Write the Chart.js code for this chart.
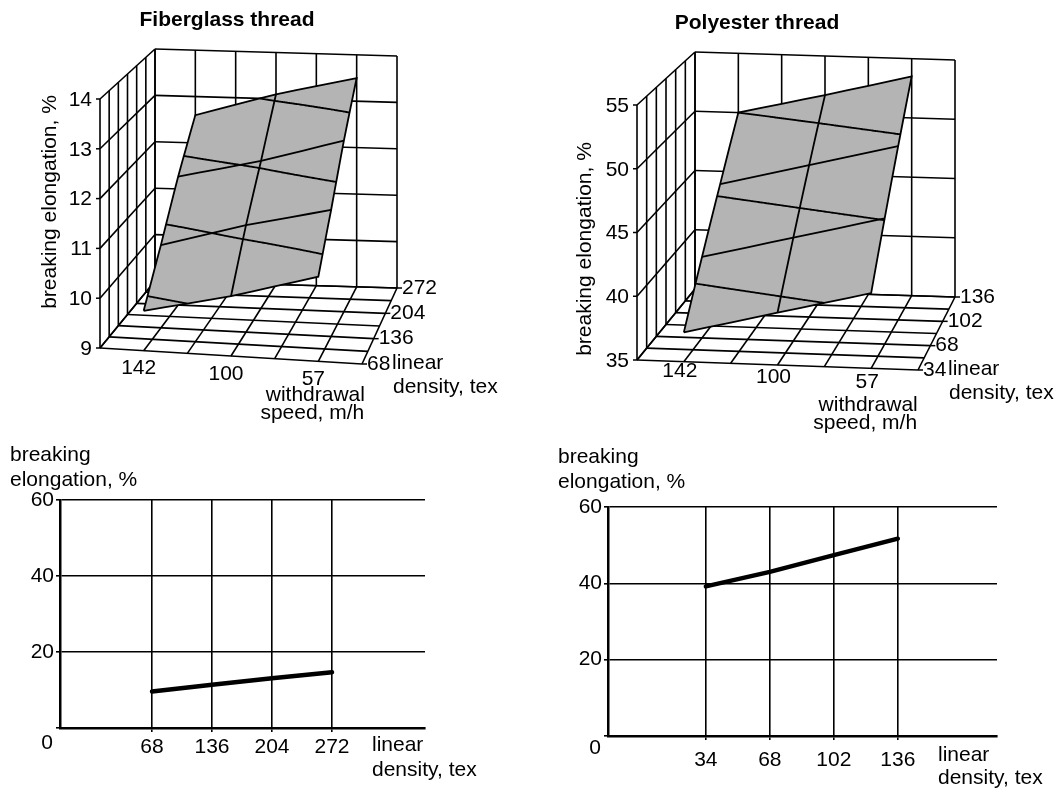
<!DOCTYPE html>
<html>
<head>
<meta charset="utf-8">
<script src="https://cdn.jsdelivr.net/npm/chart.js@4.4.0/dist/chart.umd.min.js"></script>
<style>
  body { margin: 0; background: #fff; }
  #wrap { position: relative; width: 1061px; height: 792px; }
  canvas { position: absolute; }
</style>
</head>
<body>
<div id="wrap">
  <canvas id="fiber3d" width="530" height="440" style="left:0;top:0"></canvas>
  <canvas id="poly3d" width="531" height="440" style="left:530px;top:0"></canvas>
  <canvas id="fiber2d" width="530" height="372" style="left:0;top:420px"></canvas>
  <canvas id="poly2d" width="531" height="372" style="left:530px;top:420px"></canvas>
</div>
<script>
// values
const speeds = [142, 100, 57];
const fiberDensity = [68, 136, 204, 272];
const polyDensity = [34, 68, 102, 136];

// breaking elongation (%) on the surfaces, one array per withdrawal speed, along density
const fiberZ142 = [9.8, 10.7, 11.7, 12.6];
const fiberZ100 = [10.2, 11.2, 12.1, 13.1];
const fiberZ57 = [10.7, 11.6, 12.6, 13.5];
const polyZ142 = [37.3, 41.5, 45.7, 50.0];
const polyZ100 = [39.1, 43.3, 47.5, 51.7];
const polyZ57 = [40.9, 45.1, 49.3, 53.5];

const fiberZTicks = [9, 10, 11, 12, 13, 14];
const polyZTicks = [35, 40, 45, 50, 55];

// 2d cuts
const fiberLine = [9.6, 11.4, 13.1, 14.7];
const polyLine = [39.2, 43.0, 47.4, 51.7];
const elongTicks = [0, 20, 40, 60];

const FONT = "'Liberation Sans', Arial, sans-serif";
const FS = 21;
Chart.defaults.font.family = FONT;
Chart.defaults.color = '#000';

function lerp(a, b, t) { return [a[0] + (b[0] - a[0]) * t, a[1] + (b[1] - a[1]) * t]; }

// box corners c[u][v][w] -> trilinear projection of the unit cube
function makeProjector(c) {
  return function (u, v, w) {
    const b0 = lerp(c[0][0][0], c[1][0][0], u);
    const b1 = lerp(c[0][1][0], c[1][1][0], u);
    const t0 = lerp(c[0][0][1], c[1][0][1], u);
    const t1 = lerp(c[0][1][1], c[1][1][1], u);
    const p = lerp(lerp(b0, b1, v), lerp(t0, t1, v), w);
    return {x: p[0], y: p[1]};
  };
}

// bilinear value on the data grid, s = column index, r = row index (both continuous)
function surfaceZ(cols, s, r) {
  const i = Math.min(Math.floor(s), cols.length - 2), fs = s - i;
  const j = Math.min(Math.floor(r), cols[0].length - 2), fr = r - j;
  const a = cols[i][j] * (1 - fr) + cols[i][j + 1] * fr;
  const b = cols[i + 1][j] * (1 - fr) + cols[i + 1][j + 1] * fr;
  return a * (1 - fs) + b * fs;
}

function build3D(canvasId, cfg) {
  const proj = makeProjector(cfg.corners);
  const nCols = cfg.cols.length, nRows = cfg.densities.length;
  const sMax = nCols - 1, rMax = nRows - 1;
  const uOf = s => (2 * s + 1) / (2 * nCols);
  const vOf = r => r / rMax;
  const wOf = z => (z - cfg.zMin) / (cfg.zMax - cfg.zMin);
  const sp = (s, r) => proj(uOf(s), vOf(r), wOf(surfaceZ(cfg.cols, s, r)));

  const datasets = [];
  const seg = (pts, order, width, extra) => datasets.push(Object.assign({
    data: pts, showLine: true, pointRadius: 0, borderColor: '#000', borderWidth: width,
    fill: false, order: order, clip: false, tension: 0
  }, extra || {}));

  // walls and floor
  const WL = 1.6;
  for (let k = 0; k <= 6; k++) {
    const t = k / 6;
    seg([proj(t, 0, 0), proj(t, 1, 0)], 3, WL);
    seg([proj(0, t, 0), proj(1, t, 0)], 3, WL);
    seg([proj(0, t, 0), proj(0, t, 1)], 3, WL);
    seg([proj(t, 1, 0), proj(t, 1, 1)], 3, WL);
  }
  cfg.zTicks.forEach(z => {
    const w = wOf(z);
    seg([proj(0, 0, w), proj(0, 1, w)], 3, WL);
    seg([proj(0, 1, w), proj(1, 1, w)], 3, WL);
  });

  // surface outline, filled
  const SL = 1.8;
  const step = 0.25, outline = [];
  for (let s = 0; s <= sMax; s += step) outline.push(sp(s, 0));
  for (let r = step; r <= rMax; r += step) outline.push(sp(sMax, r));
  for (let s = sMax - step; s >= 0; s -= step) outline.push(sp(s, rMax));
  for (let r = rMax - step; r >= 0; r -= step) outline.push(sp(0, r));
  seg(outline, 2, SL, {fill: 'shape', backgroundColor: '#b4b4b4'});

  // mesh at data rows / columns
  for (let r = 1; r < rMax; r++) {
    const pts = [];
    for (let s = 0; s <= sMax; s += step) pts.push(sp(s, r));
    seg(pts, 1, SL);
  }
  for (let s = 1; s < sMax; s++) {
    const pts = [];
    for (let r = 0; r <= rMax; r += step) pts.push(sp(s, r));
    seg(pts, 1, SL);
  }

  // band borders at the value-axis major ticks
  const crossAt = (s, L) => {
    for (let j = 0; j < rMax; j++) {
      const z0 = surfaceZ(cfg.cols, s, j), z1 = surfaceZ(cfg.cols, s, j + 1);
      if ((z0 - L) * (z1 - L) <= 0 && z0 !== z1) return j + (L - z0) / (z1 - z0);
    }
    return null;
  };
  cfg.zTicks.forEach(L => {
    let run = [], prevOk = false, prevS = 0;
    const N = 240;
    for (let k = 0; k <= N; k++) {
      const s = sMax * k / N;
      const r = crossAt(s, L);
      if (r !== null && !prevOk && k > 0) {
        let a = prevS, b = s;
        for (let it = 0; it < 25; it++) { const m = (a + b) / 2; if (crossAt(m, L) !== null) b = m; else a = m; }
        run.push(sp(b, crossAt(b, L)));
      }
      if (r !== null) run.push(sp(s, r));
      if (r === null && prevOk) {
        let a = prevS, b = s;
        for (let it = 0; it < 25; it++) { const m = (a + b) / 2; if (crossAt(m, L) !== null) a = m; else b = m; }
        run.push(sp(a, crossAt(a, L)));
        if (run.length > 1) seg(run, 1, SL);
        run = [];
      }
      prevOk = r !== null; prevS = s;
    }
    if (run.length > 1) seg(run, 1, SL);
  });

  const labels = {
    id: 'labels3d',
    afterDraw(chart) {
      const ctx = chart.ctx, sx = chart.scales.x, sy = chart.scales.y;
      const at = p => [sx.getPixelForValue(p.x), sy.getPixelForValue(p.y)];
      ctx.save();
      ctx.fillStyle = '#000';
      ctx.strokeStyle = '#000';
      ctx.lineWidth = 1.5;
      ctx.textBaseline = 'middle';

      ctx.font = 'bold ' + FS + 'px ' + FONT;
      ctx.textAlign = 'center';
      ctx.fillText(cfg.title, cfg.titlePos[0], cfg.titlePos[1]);

      ctx.font = FS + 'px ' + FONT;
      // value axis
      ctx.textAlign = 'right';
      cfg.zTicks.forEach(z => {
        const [x, y] = at(proj(0, 0, wOf(z)));
        ctx.beginPath(); ctx.moveTo(x - 4, y); ctx.lineTo(x, y); ctx.stroke();
        ctx.fillText(String(z), x - 8, y + 1);
      });
      ctx.save();
      ctx.translate(cfg.zTitlePos[0], cfg.zTitlePos[1]);
      ctx.rotate(-Math.PI / 2);
      ctx.textAlign = 'center';
      ctx.fillText('breaking elongation, %', 0, 0);
      ctx.restore();

      // speed axis
      ctx.textAlign = 'center';
      speeds.forEach((v, i) => {
        const [x, y] = at(proj(uOf(i), 0, 0));
        ctx.fillText(String(v), x + cfg.speedOff[0], y + cfg.speedOff[1] + cfg.speedStagger * i);
      });
      const [wx, wy] = at(proj(uOf(sMax), 0, 0));
      ctx.fillText('withdrawal', wx - 3, wy + cfg.speedTitleDy);
      ctx.fillText('speed, m/h', wx - 6, wy + cfg.speedTitleDy + 18);

      // density axis
      ctx.textAlign = 'left';
      cfg.densities.forEach((d, j) => {
        const [x, y] = at(proj(1, vOf(j), 0));
        ctx.beginPath(); ctx.moveTo(x, y); ctx.lineTo(x + 5, y); ctx.stroke();
        ctx.fillText(String(d), x + 5, y);
      });
      const [dx, dy] = at(proj(1, 0, 0));
      ctx.fillText('linear', dx + 30, dy - 1);
      ctx.fillText('density, tex', dx + 31, dy + 23);
      ctx.restore();
    }
  };

  new Chart(document.getElementById(canvasId), {
    type: 'scatter',
    data: {datasets: datasets},
    options: {
      responsive: false,
      animation: false,
      layout: {padding: 0},
      plugins: {legend: {display: false}, tooltip: {enabled: false}},
      scales: {
        x: {type: 'linear', min: 0, max: cfg.width, display: false},
        y: {type: 'linear', min: 0, max: cfg.height, reverse: true, display: false}
      }
    },
    plugins: [labels]
  });
}

function build2D(canvasId, dens, vals, L) {
  const titles = {
    id: 'axisTitles',
    afterDraw(chart) {
      const ctx = chart.ctx, y = chart.scales.y;
      ctx.save();
      ctx.fillStyle = '#000';
      ctx.font = FS + 'px ' + FONT;
      ctx.textBaseline = 'middle';
      // origin label sits below the corner, in line with the x tick labels
      ctx.textAlign = 'right';
      ctx.fillText('0', y.right - 7, y.getPixelForValue(0) + L.zeroDy);
      ctx.textAlign = 'left';
      L.texts.forEach(t => ctx.fillText(t[0], t[1], t[2]));
      ctx.restore();
    }
  };
  const gridStyle = {color: '#000', lineWidth: 1.6, tickLength: 4};
  new Chart(document.getElementById(canvasId), {
    type: 'scatter',
    data: {
      datasets: [{
        data: dens.map((d, i) => ({x: d, y: vals[i]})),
        showLine: true, borderColor: '#000', borderWidth: 4.5, pointRadius: 0,
        borderCapStyle: 'round'
      }]
    },
    options: {
      responsive: false,
      animation: false,
      layout: {padding: {left: 0, top: L.top, right: L.right, bottom: 0}},
      plugins: {legend: {display: false}, tooltip: {enabled: false}},
      scales: {
        x: {
          type: 'linear', min: L.xMin, max: L.xMax,
          afterBuildTicks: a => { a.ticks = dens.map(v => ({value: v})); },
          afterFit: a => { a.height = L.xHeight; },
          grid: gridStyle,
          border: {color: '#000', width: 2.5},
          ticks: {color: '#000', font: {size: FS}, padding: L.xPad, maxRotation: 0, autoSkip: false}
        },
        y: {
          type: 'linear', min: 0, max: 60,
          afterBuildTicks: a => { a.ticks = elongTicks.map(v => ({value: v})); },
          afterFit: a => { a.width = L.yWidth; },
          grid: gridStyle,
          border: {color: '#000', width: 2.5},
          ticks: {color: '#000', font: {size: FS}, padding: 2, callback: v => (v === 0 ? '' : String(v))}
        }
      }
    },
    plugins: [titles]
  });
}

build3D('fiber3d', {
  width: 530, height: 440,
  corners: [
    [[[100, 348], [100, 99]], [[155, 281], [155, 49]]],
    [[[362, 364], [362, 115]], [[397, 288], [397, 56]]]
  ],
  zMin: 9, zMax: 14, zTicks: fiberZTicks,
  densities: fiberDensity,
  cols: [fiberZ142, fiberZ100, fiberZ57],
  title: 'Fiberglass thread', titlePos: [227, 20], zTitlePos: [50, 202],
  speedOff: [-5, 18], speedStagger: 0, speedTitleDy: 34
});

build3D('poly3d', {
  width: 531, height: 440,
  corners: [
    [[[107, 360], [107, 105]], [[165, 289], [165, 52]]],
    [[[388, 370], [388, 115]], [[425, 297], [425, 60]]]
  ],
  zMin: 35, zMax: 55, zTicks: polyZTicks,
  densities: polyDensity,
  cols: [polyZ142, polyZ100, polyZ57],
  title: 'Polyester thread', titlePos: [227, 23], zTitlePos: [55, 249],
  speedOff: [-4, 10], speedStagger: 2, speedTitleDy: 37
});

build2D('fiber2d', fiberDensity, fiberLine, {
  top: 80, right: 105, xHeight: 64, yWidth: 60, xPad: 3, zeroDy: 15,
  xMin: -36.3, xMax: 377.4,
  texts: [['breaking', 10, 35], ['elongation, %', 10, 60], ['linear', 372, 325], ['density, tex', 372, 350]]
});

build2D('poly2d', polyDensity, polyLine, {
  top: 87, right: 64, xHeight: 56, yWidth: 78, xPad: 8, zeroDy: 12,
  xMin: -18, xMax: 188.7,
  texts: [['breaking', 28, 37], ['elongation, %', 28, 62], ['linear', 408, 335], ['density, tex', 408, 358]]
});
</script>
</body>
</html>
